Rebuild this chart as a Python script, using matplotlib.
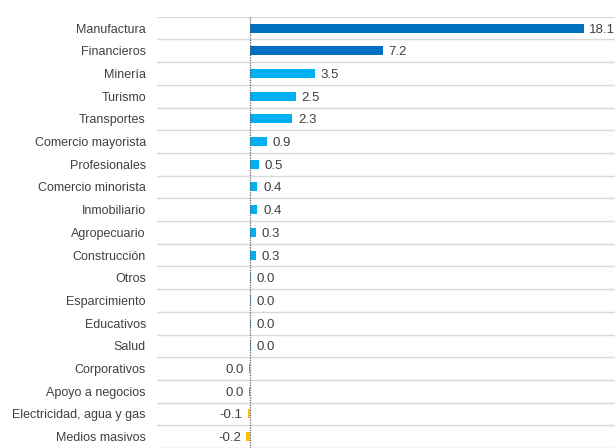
import matplotlib
matplotlib.use("Agg")
import matplotlib.pyplot as plt

categories = ["Manufactura", "Financieros", "Minería", "Turismo", "Transportes",
              "Comercio mayorista", "Profesionales", "Comercio minorista", "Inmobiliario",
              "Agropecuario", "Construcción", "Otros", "Esparcimiento", "Educativos",
              "Salud", "Corporativos", "Apoyo a negocios", "Electricidad, agua y gas",
              "Medios masivos"]
values = [18.1, 7.2, 3.5, 2.5, 2.3, 0.9, 0.5, 0.4, 0.4, 0.3, 0.3,
          0.04, 0.04, 0.04, 0.04, -0.04, -0.04, -0.1, -0.2]
labels = ["18.1", "7.2", "3.5", "2.5", "2.3", "0.9", "0.5", "0.4", "0.4", "0.3", "0.3",
          "0.0", "0.0", "0.0", "0.0", "0.0", "0.0", "-0.1", "-0.2"]
colors = (["#0070C0"] * 2 + ["#00B0F0"] * 9 + ["#5BA3C9"] * 6 + ["#FFC000"] * 2)

plt.rcParams['font.family'] = ['Liberation Sans', 'DejaVu Sans']
fig = plt.figure(figsize=(6.15, 4.48), dpi=100)
ax = fig.add_axes([0.2553, 0.0, 0.7447, 0.9627])

y = list(range(len(categories)))
ax.barh(y, values, height=0.4, color=colors, zorder=3)
ax.set_ylim(len(categories) - 0.5, -0.5)
ax.set_xlim(-5.05, 19.8)

for i in range(len(categories) + 1):
    ax.axhline(i - 0.5, color="#d9d9d9", lw=1.0, zorder=1)
ax.axvline(0, color="#606060", lw=0.9, ls=(0, (1, 1)), zorder=4)

for yi, v, lab in zip(y, values, labels):
    if v >= 0:
        ax.annotate(lab, (v, yi), xytext=(4, 0), textcoords="offset points",
                    ha="left", va="center_baseline", fontsize=9.5, color="#404040")
    else:
        ax.annotate(lab, (v, yi), xytext=(-4, 0), textcoords="offset points",
                    ha="right", va="center_baseline", fontsize=9.5, color="#404040")

ax.set_yticks(y)
ax.set_yticklabels(categories, fontsize=9, color="#404040", va="center_baseline")
ax.tick_params(axis="y", length=0, pad=8)
ax.set_xticks([])
for s in ax.spines.values():
    s.set_visible(False)

fig.savefig("out.png", dpi=100)
